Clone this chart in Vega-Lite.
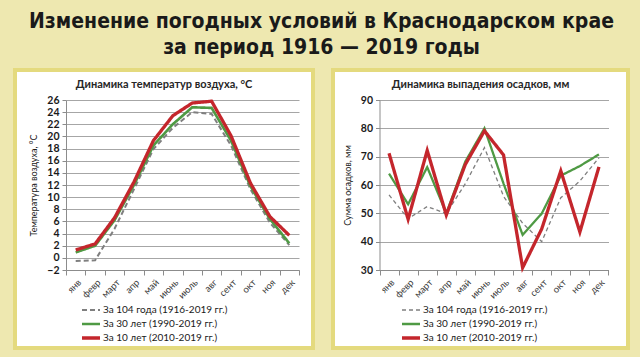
{
  "$schema": "https://vega.github.io/schema/vega-lite/v6.json",
  "padding": {"left": 13, "top": 11, "right": 14, "bottom": 7},
  "title": {
    "text": ["Изменение погодных условий в Краснодарском крае", "за период 1916 — 2019 годы"],
    "anchor": "middle",
    "font": "DejaVu Sans Condensed",
    "fontSize": 21,
    "fontWeight": "bold",
    "lineHeight": 26,
    "color": "#1a1a1a",
    "offset": 10
  },
  "datasets": {
    "temp": [
      {"month": "янв", "series": "За 104 года  (1916-2019 гг.)", "value": -0.5},
      {"month": "февр", "series": "За 104 года  (1916-2019 гг.)", "value": -0.4},
      {"month": "март", "series": "За 104 года  (1916-2019 гг.)", "value": 4.8},
      {"month": "апр", "series": "За 104 года  (1916-2019 гг.)", "value": 11.3},
      {"month": "май", "series": "За 104 года  (1916-2019 гг.)", "value": 17.9},
      {"month": "июнь", "series": "За 104 года  (1916-2019 гг.)", "value": 21.4},
      {"month": "июль", "series": "За 104 года  (1916-2019 гг.)", "value": 24.0},
      {"month": "авг", "series": "За 104 года  (1916-2019 гг.)", "value": 23.7},
      {"month": "сент", "series": "За 104 года  (1916-2019 гг.)", "value": 18.5},
      {"month": "окт", "series": "За 104 года  (1916-2019 гг.)", "value": 11.3},
      {"month": "ноя", "series": "За 104 года  (1916-2019 гг.)", "value": 5.8},
      {"month": "дек", "series": "За 104 года  (1916-2019 гг.)", "value": 2.1},
      {"month": "янв", "series": "За 30 лет (1990-2019 гг.)", "value": 0.9},
      {"month": "февр", "series": "За 30 лет (1990-2019 гг.)", "value": 2.0},
      {"month": "март", "series": "За 30 лет (1990-2019 гг.)", "value": 6.2},
      {"month": "апр", "series": "За 30 лет (1990-2019 гг.)", "value": 12.0},
      {"month": "май", "series": "За 30 лет (1990-2019 гг.)", "value": 18.5},
      {"month": "июнь", "series": "За 30 лет (1990-2019 гг.)", "value": 22.0},
      {"month": "июль", "series": "За 30 лет (1990-2019 гг.)", "value": 24.8},
      {"month": "авг", "series": "За 30 лет (1990-2019 гг.)", "value": 24.7},
      {"month": "сент", "series": "За 30 лет (1990-2019 гг.)", "value": 19.3},
      {"month": "окт", "series": "За 30 лет (1990-2019 гг.)", "value": 11.8},
      {"month": "ноя", "series": "За 30 лет (1990-2019 гг.)", "value": 6.4},
      {"month": "дек", "series": "За 30 лет (1990-2019 гг.)", "value": 2.4},
      {"month": "янв", "series": "За  10 лет (2010-2019 гг.)", "value": 1.3},
      {"month": "февр", "series": "За  10 лет (2010-2019 гг.)", "value": 2.3},
      {"month": "март", "series": "За  10 лет (2010-2019 гг.)", "value": 6.6},
      {"month": "апр", "series": "За  10 лет (2010-2019 гг.)", "value": 12.5},
      {"month": "май", "series": "За  10 лет (2010-2019 гг.)", "value": 19.3},
      {"month": "июнь", "series": "За  10 лет (2010-2019 гг.)", "value": 23.4},
      {"month": "июль", "series": "За  10 лет (2010-2019 гг.)", "value": 25.5},
      {"month": "авг", "series": "За  10 лет (2010-2019 гг.)", "value": 25.8},
      {"month": "сент", "series": "За  10 лет (2010-2019 гг.)", "value": 20.1},
      {"month": "окт", "series": "За  10 лет (2010-2019 гг.)", "value": 12.3},
      {"month": "ноя", "series": "За  10 лет (2010-2019 гг.)", "value": 6.8},
      {"month": "дек", "series": "За  10 лет (2010-2019 гг.)", "value": 3.7}
    ],
    "precip": [
      {"month": "янв", "series": "За 104 года  (1916-2019 гг.)", "value": 56.5},
      {"month": "февр", "series": "За 104 года  (1916-2019 гг.)", "value": 48.1},
      {"month": "март", "series": "За 104 года  (1916-2019 гг.)", "value": 52.4},
      {"month": "апр", "series": "За 104 года  (1916-2019 гг.)", "value": 49.9},
      {"month": "май", "series": "За 104 года  (1916-2019 гг.)", "value": 60.5},
      {"month": "июнь", "series": "За 104 года  (1916-2019 гг.)", "value": 73.2},
      {"month": "июль", "series": "За 104 года  (1916-2019 гг.)", "value": 56.0},
      {"month": "авг", "series": "За 104 года  (1916-2019 гг.)", "value": 46.5},
      {"month": "сент", "series": "За 104 года  (1916-2019 гг.)", "value": 40.0},
      {"month": "окт", "series": "За 104 года  (1916-2019 гг.)", "value": 55.5},
      {"month": "ноя", "series": "За 104 года  (1916-2019 гг.)", "value": 61.4},
      {"month": "дек", "series": "За 104 года  (1916-2019 гг.)", "value": 69.6},
      {"month": "янв", "series": "За 30 лет (1990-2019 гг.)", "value": 64.0},
      {"month": "февр", "series": "За 30 лет (1990-2019 гг.)", "value": 53.2},
      {"month": "март", "series": "За 30 лет (1990-2019 гг.)", "value": 66.3},
      {"month": "апр", "series": "За 30 лет (1990-2019 гг.)", "value": 50.0},
      {"month": "май", "series": "За 30 лет (1990-2019 гг.)", "value": 68.3},
      {"month": "июнь", "series": "За 30 лет (1990-2019 гг.)", "value": 80.0},
      {"month": "июль", "series": "За 30 лет (1990-2019 гг.)", "value": 60.5},
      {"month": "авг", "series": "За 30 лет (1990-2019 гг.)", "value": 42.4},
      {"month": "сент", "series": "За 30 лет (1990-2019 гг.)", "value": 49.9},
      {"month": "окт", "series": "За 30 лет (1990-2019 гг.)", "value": 63.3},
      {"month": "ноя", "series": "За 30 лет (1990-2019 гг.)", "value": 66.7},
      {"month": "дек", "series": "За 30 лет (1990-2019 гг.)", "value": 70.8},
      {"month": "янв", "series": "За  10 лет (2010-2019 гг.)", "value": 71.2},
      {"month": "февр", "series": "За  10 лет (2010-2019 гг.)", "value": 47.9},
      {"month": "март", "series": "За  10 лет (2010-2019 гг.)", "value": 72.2},
      {"month": "апр", "series": "За  10 лет (2010-2019 гг.)", "value": 49.4},
      {"month": "май", "series": "За  10 лет (2010-2019 гг.)", "value": 67.3},
      {"month": "июнь", "series": "За  10 лет (2010-2019 гг.)", "value": 79.1},
      {"month": "июль", "series": "За  10 лет (2010-2019 гг.)", "value": 70.6},
      {"month": "авг", "series": "За  10 лет (2010-2019 гг.)", "value": 30.8},
      {"month": "сент", "series": "За  10 лет (2010-2019 гг.)", "value": 44.5},
      {"month": "окт", "series": "За  10 лет (2010-2019 гг.)", "value": 65.0},
      {"month": "ноя", "series": "За  10 лет (2010-2019 гг.)", "value": 43.4},
      {"month": "дек", "series": "За  10 лет (2010-2019 гг.)", "value": 66.4}
    ]
  },
  "hconcat": [
    {
      "width": 298,
      "height": 278,
      "data": {"name": "temp"},
      "title": {"text": "Динамика температур воздуха, °C", "anchor": "middle", "frame": "group", "offset": -20, "fontSize": 11, "font": "Lato", "fontWeight": "bold", "color": "#262626"},
      "mark": {"type": "line"},
      "encoding": {
        "x": {
          "field": "month", "type": "nominal",
          "sort": ["янв", "февр", "март", "апр", "май", "июнь", "июль", "авг", "сент", "окт", "ноя", "дек"],
          "scale": {"type": "band", "range": [51, 284], "paddingInner": 0, "paddingOuter": 0},
          "axis": {"title": null, "offset": -78, "labelAngle": -45, "tickBand": "extent"}
        },
        "y": {
          "field": "value", "type": "quantitative",
          "scale": {"domain": [-2, 26], "range": [200, 30], "nice": false, "zero": false},
          "axis": {"title": "Температура воздуха, °C", "offset": -51, "values": [-2, 0, 2, 4, 6, 8, 10, 12, 14, 16, 18, 20, 22, 24, 26], "grid": true}
        },
        "color": {
          "field": "series", "type": "nominal",
          "scale": {"domain": ["За 104 года  (1916-2019 гг.)", "За 30 лет (1990-2019 гг.)", "За  10 лет (2010-2019 гг.)"], "range": ["#7f7f7f", "#4f9a44", "#c4262c"]},
          "legend": {"orient": "none", "legendX": 65, "legendY": 233, "title": null}
        },
        "strokeDash": {
          "field": "series", "type": "nominal",
          "scale": {"domain": ["За 104 года  (1916-2019 гг.)", "За 30 лет (1990-2019 гг.)", "За  10 лет (2010-2019 гг.)"], "range": [[5, 3], [1, 0], [1, 0]]},
          "legend": {"orient": "none", "legendX": 65, "legendY": 233, "title": null}
        },
        "strokeWidth": {
          "field": "series", "type": "nominal",
          "scale": {"domain": ["За 104 года  (1916-2019 гг.)", "За 30 лет (1990-2019 гг.)", "За  10 лет (2010-2019 гг.)"], "range": [2, 3.3, 3.3]},
          "legend": {"orient": "none", "legendX": 65, "legendY": 233, "title": null}
        }
      }
    },
    {
      "width": 295,
      "height": 278,
      "data": {"name": "precip"},
      "title": {"text": "Динамика выпадения осадков, мм", "anchor": "middle", "frame": "group", "offset": -20, "fontSize": 11, "font": "Lato", "fontWeight": "bold", "color": "#262626"},
      "mark": {"type": "line"},
      "encoding": {
        "x": {
          "field": "month", "type": "nominal",
          "sort": ["янв", "февр", "март", "апр", "май", "июнь", "июль", "авг", "сент", "окт", "ноя", "дек"],
          "scale": {"type": "band", "range": [46.5, 275.5], "paddingInner": 0, "paddingOuter": 0},
          "axis": {"title": null, "offset": -78, "labelAngle": -45, "tickBand": "extent"}
        },
        "y": {
          "field": "value", "type": "quantitative",
          "scale": {"domain": [30, 90], "range": [200, 30], "nice": false, "zero": false},
          "axis": {"title": "Сумма осадков, мм", "offset": -46.5, "values": [30, 40, 50, 60, 70, 80, 90], "grid": true}
        },
        "color": {
          "field": "series", "type": "nominal",
          "scale": {"domain": ["За 104 года  (1916-2019 гг.)", "За 30 лет (1990-2019 гг.)", "За  10 лет (2010-2019 гг.)"], "range": ["#7f7f7f", "#4f9a44", "#c4262c"]},
          "legend": {"orient": "none", "legendX": 67, "legendY": 233, "title": null}
        },
        "strokeDash": {
          "field": "series", "type": "nominal",
          "scale": {"domain": ["За 104 года  (1916-2019 гг.)", "За 30 лет (1990-2019 гг.)", "За  10 лет (2010-2019 гг.)"], "range": [[4, 3], [1, 0], [1, 0]]},
          "legend": {"orient": "none", "legendX": 67, "legendY": 233, "title": null}
        },
        "strokeWidth": {
          "field": "series", "type": "nominal",
          "scale": {"domain": ["За 104 года  (1916-2019 гг.)", "За 30 лет (1990-2019 гг.)", "За  10 лет (2010-2019 гг.)"], "range": [1.3, 3.3, 3.3]},
          "legend": {"orient": "none", "legendX": 67, "legendY": 233, "title": null}
        }
      }
    }
  ],
  "spacing": 16,
  "resolve": {
    "scale": {"x": "independent", "y": "independent", "color": "independent", "strokeDash": "independent", "strokeWidth": "independent"},
    "legend": {"color": "independent", "strokeDash": "independent", "strokeWidth": "independent"}
  },
  "config": {
    "background": "#eee8b0",
    "font": "Lato",
    "view": {"fill": "white", "stroke": "#e4da7e", "strokeWidth": 4},
    "axis": {
      "domainColor": "#8c8c8c",
      "tickColor": "#8c8c8c",
      "gridColor": "#a6a6a6",
      "labelFont": "Lato",
      "titleFont": "Lato"
    },
    "axisY": {
      "tickSize": 4,
      "labelFontSize": 10.5,
      "labelFontWeight": "bold",
      "labelColor": "#1a1a1a",
      "labelPadding": 3,
      "titleFontSize": 9,
      "titleFontWeight": "normal",
      "titleColor": "#1a1a1a",
      "titlePadding": 8
    },
    "axisX": {
      "tickSize": 5,
      "labelFontSize": 9.5,
      "labelColor": "#404040",
      "labelPadding": 2,
      "grid": false
    },
    "legend": {
      "labelFont": "Lato",
      "labelFontSize": 10,
      "labelColor": "#1a1a1a",
      "symbolType": "stroke",
      "symbolSize": 324,
      "clipHeight": 14,
      "labelOffset": 1,
      "rowPadding": 0,
      "labelLimit": 300
    }
  }
}
